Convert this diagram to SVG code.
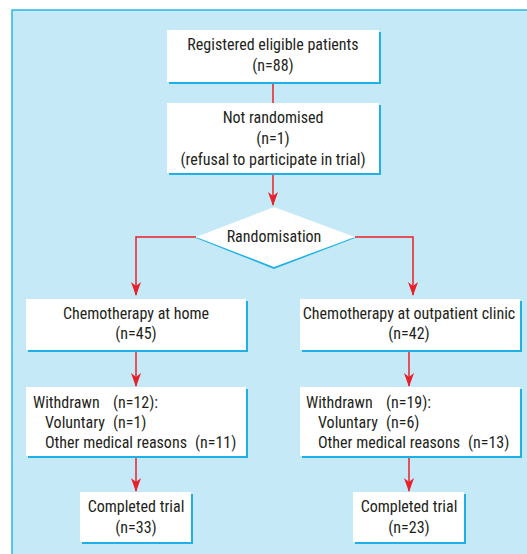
<svg xmlns="http://www.w3.org/2000/svg" width="527" height="554" viewBox="0 0 527 554">
<defs>
<style>
text{font-family:"Liberation Sans Narrow","Roboto Condensed","DejaVu Sans Condensed",sans-serif;font-size:16px;fill:#231f20}
.c{text-anchor:middle}
.box{fill:#fff}
.sh{fill:#1fb0e8}
.ln{stroke:#e8202a;stroke-width:1.5;fill:none}
.ah{fill:#e8202a}
</style>
</defs>
<rect x="0" y="0" width="527" height="554" fill="#fff"/>
<rect x="12" y="10" width="520" height="550" fill="#c6e9f8" stroke="#2ab7e8" stroke-width="1.5"/>
<g id="connectors">
<line class="ln" x1="273" y1="82" x2="273" y2="103"/>
<path class="ln" d="M273,173 V205"/>
<path class="ah" d="M268,192 L273,196 L278,192 L273,206 Z"/>
<path class="ln" d="M196,237 H136 V295"/>
<path class="ah" d="M131,282 L136,286 L141,282 L136,296 Z"/>
<path class="ln" d="M355,237 H413 V295"/>
<path class="ah" d="M408,282 L413,286 L418,282 L413,296 Z"/>
<path class="ln" d="M136,350 V386"/>
<path class="ah" d="M131,373 L136,377 L141,373 L136,387 Z"/>
<path class="ln" d="M409,350 V386"/>
<path class="ah" d="M404,373 L409,377 L414,373 L409,387 Z"/>
<path class="ln" d="M136,456 V491"/>
<path class="ah" d="M131,478 L136,482 L141,478 L136,492 Z"/>
<path class="ln" d="M409,456 V491"/>
<path class="ah" d="M404,478 L409,482 L414,478 L409,492 Z"/>
</g>
<g id="registered">
<rect class="sh" x="169" y="32" width="212" height="52"/>
<rect class="box" x="167" y="30" width="212" height="52"/>
<text class="c" x="273" y="50">Registered eligible patients</text>
<text class="c" x="273" y="71">(n=88)</text>
</g>
<g id="not-randomised">
<rect class="sh" x="169" y="105" width="212" height="70"/>
<rect class="box" x="167" y="103" width="212" height="70"/>
<text class="c" x="273" y="123">Not randomised</text>
<text class="c" x="273" y="144">(n=1)</text>
<text class="c" x="273" y="165">(refusal to participate in trial)</text>
</g>
<g id="randomisation">
<path d="M196,238 L274,209 L355,238 L274,269 Z" fill="#1fb0e8"/>
<path d="M196,237 L274,207 L355,237 L274,267 Z" fill="#fff"/>
<text class="c" x="274" y="242">Randomisation</text>
</g>
<g id="home">
<rect class="sh" x="28" y="301" width="220" height="51"/>
<rect class="box" x="26" y="299" width="220" height="51"/>
<text class="c" x="136" y="319">Chemotherapy at home</text>
<text class="c" x="136" y="339">(n=45)</text>
</g>
<g id="clinic">
<rect class="sh" x="302" y="301" width="220" height="51"/>
<rect class="box" x="300" y="299" width="220" height="51"/>
<text class="c" x="409" y="319">Chemotherapy at outpatient clinic</text>
<text class="c" x="409" y="339">(n=42)</text>
</g>
<g id="withdrawn-home">
<rect class="sh" x="28" y="389" width="220" height="69"/>
<rect class="box" x="26" y="387" width="220" height="69"/>
<text x="33" y="408">Withdrawn</text><text x="113" y="408">(n=12):</text>
<text x="45" y="428">Voluntary</text><text x="113" y="428">(n=1)</text>
<text x="45" y="448">Other medical reasons</text><text x="195" y="448">(n=11)</text>
</g>
<g id="withdrawn-clinic">
<rect class="sh" x="302" y="389" width="220" height="69"/>
<rect class="box" x="300" y="387" width="220" height="69"/>
<text x="306" y="408">Withdrawn</text><text x="386" y="408">(n=19):</text>
<text x="318" y="428">Voluntary</text><text x="386" y="428">(n=6)</text>
<text x="318" y="448">Other medical reasons</text><text x="468" y="448">(n=13)</text>
</g>
<g id="completed-home">
<rect class="sh" x="82" y="494" width="111" height="50"/>
<rect class="box" x="80" y="492" width="111" height="50"/>
<text class="c" x="136" y="512">Completed trial</text>
<text class="c" x="136" y="533">(n=33)</text>
</g>
<g id="completed-clinic">
<rect class="sh" x="355" y="494" width="111" height="50"/>
<rect class="box" x="353" y="492" width="111" height="50"/>
<text class="c" x="409" y="512">Completed trial</text>
<text class="c" x="409" y="533">(n=23)</text>
</g>
</svg>
